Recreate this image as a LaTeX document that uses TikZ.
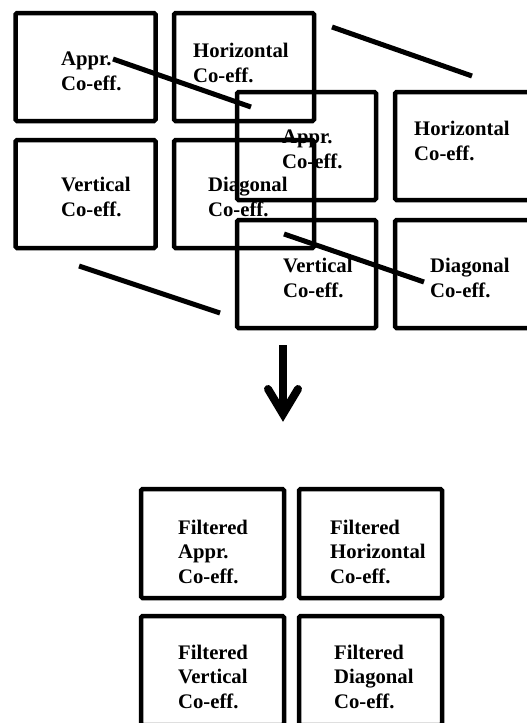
\documentclass[tikz,border=0pt]{standalone}
\usepackage{fontspec}
\setmainfont{Liberation Serif}
\begin{document}
\begin{tikzpicture}[x=1pt,y=-1pt,
  coeffbox/.style={draw,line width=4.5pt,rounded corners=1.5pt,rectangle,
    minimum width=140pt,minimum height=108pt,inner sep=0pt,outer sep=0pt},
  filtbox/.style={coeffbox,minimum width=143pt,minimum height=109pt},
  coefftext/.style={anchor=base west,inner sep=0pt,align=left,
    font=\bfseries\fontsize{20.7}{24.5}\selectfont},
  stroke/.style={line width=5pt,line cap=butt},
  arrowline/.style={line width=8pt,line cap=round,line join=miter}]
\useasboundingbox (0,0) rectangle (527,723);
\clip (0,0) rectangle (527,723);

% first level decomposition
\node[coeffbox] (a1) at (85.5,67) {};
\node[coeffbox] (h1) at (244,67) {};
\node[coeffbox] (v1) at (85.5,194) {};
\node[coeffbox] (d1) at (244,194) {};
% text nodes are placed by the baseline of their last line
\node[coefftext] (ta1) at (61,90) {Appr.\\Co-eff.};
\node[coefftext] (th1) at (193,82) {Horizontal\\Co-eff.};
\node[coefftext] (tv1) at (61,216) {Vertical\\Co-eff.};
\node[coefftext] (td1) at (208,216) {Diagonal\\Co-eff.};

% second, shifted set of sub-bands
\node[coeffbox,minimum width=139pt] (a2) at (306.5,146) {};
\node[coeffbox] (h2) at (465,146) {};
\node[coeffbox,minimum width=139pt] (v2) at (306.5,274) {};
\node[coeffbox] (d2) at (465,274) {};
\node[coefftext] (ta2) at (282,168) {Appr.\\Co-eff.};
\node[coefftext] (th2) at (414,160) {Horizontal\\Co-eff.};
\node[coefftext] (tv2) at (283,297) {Vertical\\Co-eff.};
\node[coefftext] (td2) at (430,297) {Diagonal\\Co-eff.};

% slanted connecting strokes
\coordinate (s1a) at (113,59);  \coordinate (s1b) at (251,107);
\coordinate (s2a) at (332,27);  \coordinate (s2b) at (472,76);
\coordinate (s3a) at (79,266);  \coordinate (s3b) at (220,313);
\coordinate (s4a) at (284,234); \coordinate (s4b) at (424,282);
\draw[stroke] (s1a) -- (s1b);
\draw[stroke] (s2a) -- (s2b);
\draw[stroke] (s3a) -- (s3b);
\draw[stroke] (s4a) -- (s4b);

% downward arrow
\coordinate (ar0) at (283,345);
\coordinate (ar1) at (283,414);
\coordinate (arl) at (268,389);
\coordinate (arr) at (298,389);
\draw[line width=8pt,line cap=butt] (ar0) -- (ar1);
\draw[arrowline] (arl) -- (ar1) -- (arr);

% filtered coefficients
\node[filtbox] (fa) at (212.5,543.5) {};
\node[filtbox] (fh) at (370.5,543.5) {};
\node[filtbox] (fv) at (212.5,670.5) {};
\node[filtbox] (fd) at (370.5,670.5) {};
\node[coefftext] (tfa) at (178,583) {Filtered\\Appr.\\Co-eff.};
\node[coefftext] (tfh) at (330,583) {Filtered\\Horizontal\\Co-eff.};
\node[coefftext] (tfv) at (178,708) {Filtered\\Vertical\\Co-eff.};
\node[coefftext] (tfd) at (334,708) {Filtered\\Diagonal\\Co-eff.};
\end{tikzpicture}
\end{document}
